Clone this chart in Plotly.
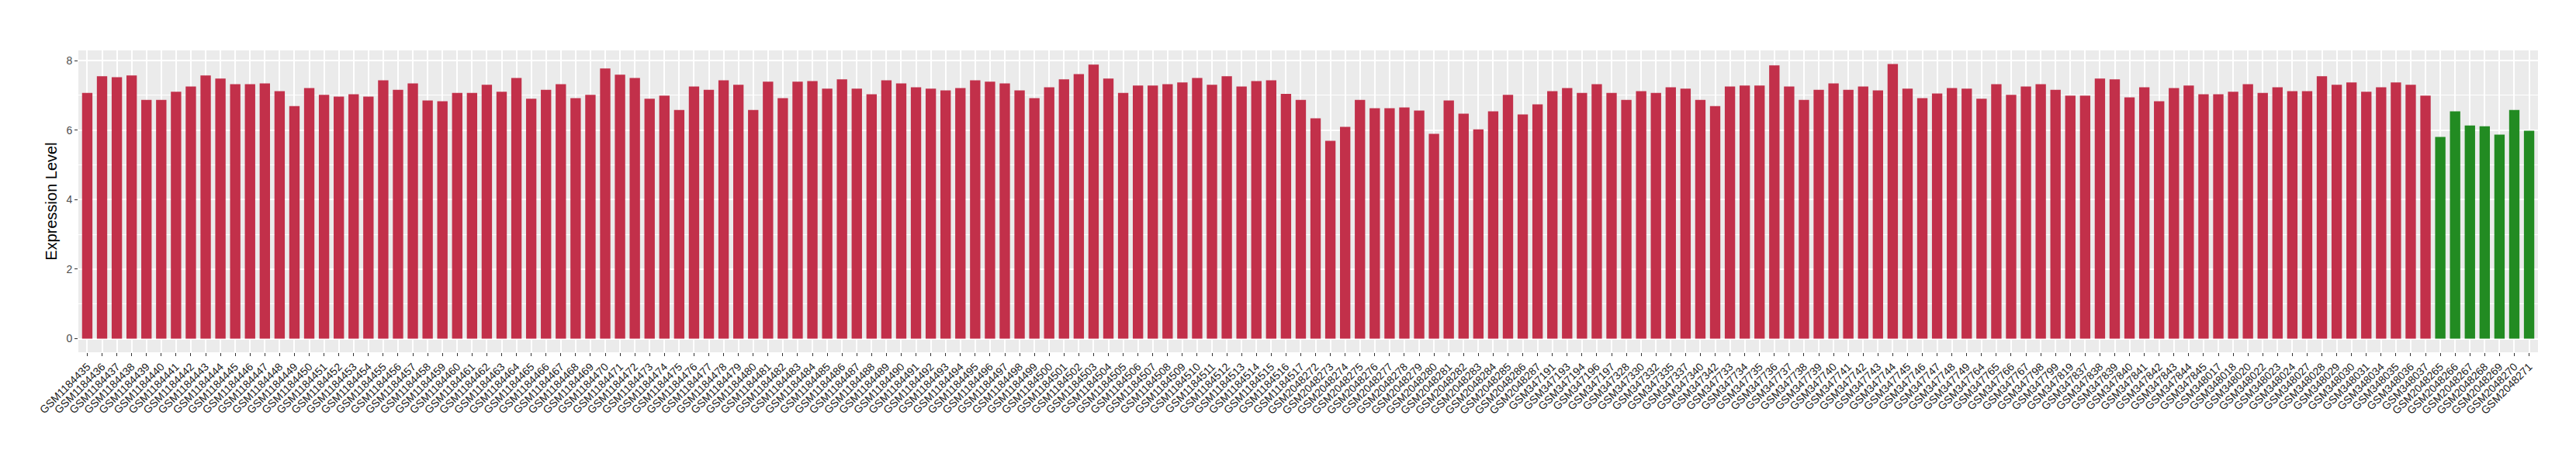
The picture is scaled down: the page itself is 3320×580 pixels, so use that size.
import plotly.graph_objects as go

samples_a = ["GSM%d" % n for n in range(1184435, 1184518)]
samples_b = ["GSM%d" % n for n in range(2048272, 2048288)]
samples_c = ["GSM347191", "GSM347193", "GSM347194", "GSM347196", "GSM347197",
             "GSM347328", "GSM347330", "GSM347332", "GSM347335", "GSM347337",
             "GSM347340", "GSM347342"]
samples_d = ["GSM%d" % n for n in range(347733, 347750)]
samples_e = ["GSM347764", "GSM347765", "GSM347766", "GSM347767", "GSM347798",
             "GSM347799", "GSM347819"]
samples_f = ["GSM%d" % n for n in range(347837, 347846)]
samples_g = ["GSM348017", "GSM348018", "GSM348020", "GSM348022", "GSM348023",
             "GSM348024", "GSM348027", "GSM348028", "GSM348029", "GSM348030",
             "GSM348031", "GSM348034", "GSM348035", "GSM348036", "GSM348037"]
samples_green = ["GSM%d" % n for n in range(2048265, 2048272)]

red_samples = samples_a + samples_b + samples_c + samples_d + samples_e + samples_f + samples_g

red_values = [
    7.07, 7.55, 7.52, 7.57, 6.87, 6.87, 7.10, 7.25, 7.57, 7.48,
    7.32, 7.32, 7.34, 7.12, 6.69, 7.21, 7.01, 6.96, 7.03, 6.96,
    7.43, 7.16, 7.34, 6.85, 6.83, 7.07, 7.07, 7.30, 7.10, 7.50,
    6.90, 7.16, 7.32, 6.92, 7.01, 7.77, 7.59, 7.50, 6.90, 6.99,
    6.58, 7.25, 7.16, 7.43, 7.30, 6.58, 7.39, 6.92, 7.39, 7.41,
    7.19, 7.46, 7.19, 7.03, 7.43, 7.34, 7.23, 7.19, 7.14, 7.21,
    7.43, 7.39, 7.34, 7.14, 6.92, 7.23, 7.46, 7.61, 7.88, 7.48,
    7.07, 7.28, 7.28, 7.32, 7.37, 7.50, 7.30, 7.55, 7.25, 7.41,
    7.43, 7.04, 6.87,
    6.34, 5.69, 6.09, 6.87, 6.63, 6.63, 6.65, 6.56, 5.89, 6.85,
    6.47, 6.02, 6.54, 7.01, 6.45, 6.74,
    7.12, 7.21, 7.07, 7.32, 7.07, 6.87, 7.12, 7.07, 7.23, 7.19,
    6.87, 6.69,
    7.25, 7.28, 7.28, 7.86, 7.25, 6.87, 7.16, 7.34, 7.16, 7.25,
    7.14, 7.90, 7.19, 6.92, 7.05, 7.21, 7.19,
    6.90, 7.32, 7.01, 7.25, 7.32, 7.16, 6.99,
    6.99, 7.48, 7.46, 6.94, 7.23, 6.83, 7.21, 7.28, 7.03,
    7.03, 7.10, 7.32, 7.07, 7.23, 7.12, 7.12, 7.55, 7.30, 7.37,
    7.10, 7.23, 7.37, 7.30, 6.99,
]
green_values = [5.80, 6.54, 6.13, 6.11, 5.87, 6.58, 5.98]

all_samples = red_samples + samples_green

fig = go.Figure()
fig.add_trace(go.Bar(x=red_samples, y=red_values, marker=dict(color="#C2304A", line=dict(width=0)),
                     showlegend=False))
fig.add_trace(go.Bar(x=samples_green, y=green_values, marker=dict(color="#228B22", line=dict(width=0)),
                     showlegend=False))

fig.update_layout(
    width=3320, height=580,
    margin=dict(l=93, r=57, t=57, b=134, autoexpand=False),
    paper_bgcolor="white", plot_bgcolor="#EBEBEB",
    bargap=0.3,
    font=dict(family="Liberation Sans, Arial, sans-serif", color="#4D4D4D"),
    xaxis=dict(
        type="category", categoryorder="array", categoryarray=all_samples,
        range=[-0.6, len(all_samples) - 0.4],
        tickangle=-45, tickfont=dict(size=14, color="#1a1a1a"),
        showgrid=True, gridcolor="white", gridwidth=2,
        ticks="outside", ticklen=4, tickcolor="#333333",
        showline=False, zeroline=False, automargin=False,
    ),
    yaxis=dict(
        range=[-0.39, 8.29], tick0=0, dtick=2,
        tickfont=dict(size=14, color="#4D4D4D"),
        showgrid=True, gridcolor="white", gridwidth=2,
        minor=dict(dtick=1, tick0=0, showgrid=True, gridcolor="white", gridwidth=1),
        ticks="outside", ticklen=4, tickcolor="#333333",
        zeroline=False, showline=False, automargin=False,
        title=dict(text="Expression Level", font=dict(size=20, color="black"), standoff=6),
    ),
)

fig.write_html("out.html")
